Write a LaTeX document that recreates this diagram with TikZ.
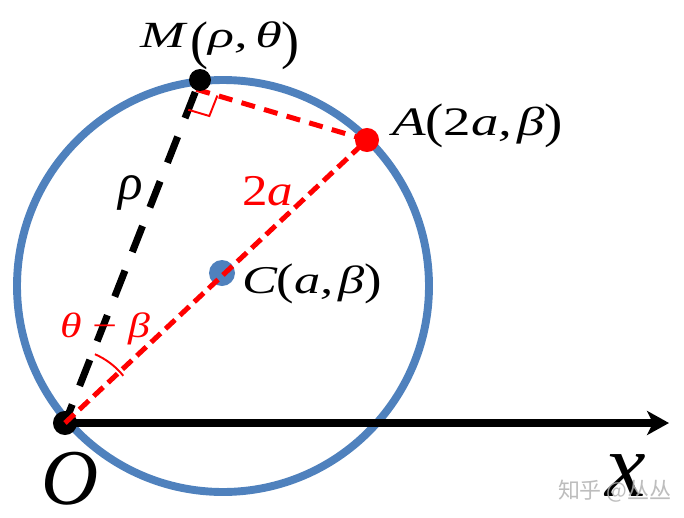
\documentclass[tikz,border=0pt]{standalone}
\usepackage{fontspec}
\setmainfont{Liberation Serif}
\newfontfamily\cjk{Noto Sans CJK SC}
\usepackage{graphicx}
\usetikzlibrary{arrows.meta,calc}
\definecolor{cblue}{HTML}{4F81BD}
\definecolor{cred}{HTML}{FF0000}
\newcommand{\lbl}[3]{\resizebox{#1}{\height}{\fontsize{#2}{#2}\selectfont #3}}
\newcommand{\bp}[3]{\raisebox{#3}{\resizebox*{\width}{#2}{\upshape #1}}}
\begin{document}
\begin{tikzpicture}[x=0.02cm,y=-0.02cm,
  dot/.style={circle,inner sep=0pt,outer sep=0pt,minimum size=#1},
  lab/.style={anchor=base west,inner sep=0pt,outer sep=0pt},
  glyph/.style={anchor=center,inner sep=0pt,outer sep=0pt},
  redline/.style={cred,line width=2.85pt},
  thinred/.style={cred,line width=1.1pt}]
\fill[white] (0,0) rectangle (684,518);
\useasboundingbox (0,0) rectangle (684,518);
% key points
\coordinate (O) at (65,423);
\coordinate (Mp) at (200,80);
\coordinate (Ap) at (367,140);
\coordinate (Cp) at (222,273);
\coordinate (Ctr) at (223,286);
\coordinate (X) at (669,423);
\coordinate (V) at ($(Mp)!5.7pt!(O)$);
\coordinate (R1) at ($(V)!12.5pt!(O)$);
\coordinate (R2) at ($(V)!12.5pt!(Ap)$);
\coordinate (R3) at ($(R1)+(R2)-(V)$);
% circle
\draw[cblue,line width=4.5pt] (Ctr) circle[radius=206];
\node[dot=14.8pt,fill=cblue] (C) at (Cp) {};
% axis
\draw[line width=4.3pt,-{Stealth[length=12.5pt,width=13.7pt,inset=3.4pt]}] (O) -- (X);
% OM
\draw[black,line width=4pt,dash pattern=on 15.9pt off 11.4pt,dash phase=19.9pt] (Mp) -- (O);
\node[dot=13.7pt,fill=black] (Odot) at (O) {};
% red lines
\draw[redline,dash pattern=on 7.4pt off 3.8pt] (O) -- (Ap);
\draw[redline,dash pattern=on 8pt off 5.4pt] (V) -- (Ap);
\draw[thinred] (R1) -- (R3) -- (R2);
\draw[thinred] (O) ++(39:42.7pt) arc[start angle=39,end angle=66.5,radius=42.7pt];
\node[dot=12.5pt,fill=black] (M) at (Mp) {};
\node[dot=13.7pt,fill=cred] (A) at (Ap) {};
% labels
\node[lab] (lM) at (140,47) {\lbl{91pt}{21pt}{\itshape M\kern2pt\bp{(}{27.3pt}{-6.3pt}ρ,\kern3pt θ\bp{)}{27.3pt}{-6.3pt}}};
\node[lab] (lA) at (392,135) {\lbl{97.3pt}{23pt}{\itshape A\bp{(}{25pt}{-1.6pt}\upshape 2\itshape a,\kern2pt β\bp{)}{25pt}{-1.6pt}}};
\node[lab] (lC) at (242,293) {\lbl{79.7pt}{22.4pt}{\itshape C\bp{(}{22.8pt}{-1pt}a,\kern2pt β\bp{)}{22.8pt}{-1pt}}};
\node[glyph] (lrho) at (131,193) {\fontsize{29pt}{29pt}\selectfont\itshape ρ};
\node[lab,text=cred] (l2a) at (242,205) {\lbl{29pt}{25pt}{2\itshape a}};
\node[lab,text=cred] (lang) at (60,337) {\lbl{51.2pt}{20pt}{\itshape θ \upshape − \itshape β}};
\node[glyph] (lO) at (70.5,479) {\fontsize{45pt}{45pt}\selectfont\itshape O};
\node[glyph] (lx) at (625.5,476) {\fontsize{52pt}{52pt}\selectfont\itshape x};
\node[lab,text=black!30,opacity=0.85] (wm) at (558,498) {\cjk\fontsize{12.5pt}{12.5pt}\selectfont 知乎 @丛丛};
\end{tikzpicture}
\end{document}
